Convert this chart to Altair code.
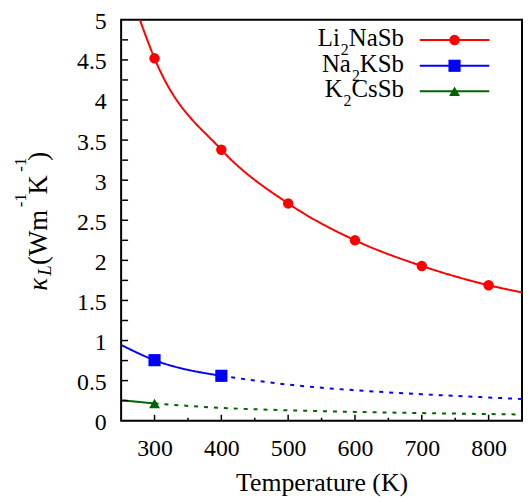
import altair as alt
import pandas as pd

FONT = "Liberation Serif"

# ---------------- data ----------------
series = ["Li2NaSb", "Na2KSb", "K2CsSb"]
legend_parts = [("Li", "2", "NaSb"), ("Na", "2", "KSb"), ("K", "2", "CsSb")]
colors = ["#ff0000", "#0000ff", "#006400"]
shapes = ["circle", "square", "triangle-up"]
marker_sizes = [110, 150, 120]

# computed points (markers)
li_T = [300, 400, 500, 600, 700, 800]
li_k = [4.52, 3.38, 2.71, 2.25, 1.93, 1.69]
na_T = [300, 400]
na_k = [0.755, 0.56]
kc_T = [300]
kc_k = [0.215]

# fitted curves (solid = computed range, dotted = extrapolation)
li_curve_T = [278, 300, 400, 500, 600, 700, 800, 850]
li_curve_k = [5.0, 4.52, 3.38, 2.71, 2.25, 1.93, 1.69, 1.60]
na_solid_T = [250, 300, 400]
na_solid_k = [0.945, 0.755, 0.56]
na_dot_T = [400, 500, 600, 700, 800, 850]
na_dot_k = [0.56, 0.45, 0.38, 0.33, 0.29, 0.27]
kc_solid_T = [250, 300]
kc_solid_k = [0.256, 0.215]
kc_dot_T = [300, 400, 500, 600, 700, 800, 850]
kc_dot_k = [0.215, 0.16, 0.13, 0.11, 0.095, 0.083, 0.078]

x_ticks = [300, 400, 500, 600, 700, 800]
x_minor = [350, 450, 550, 650, 750, 850]
y_labels = [0, 0.5, 1, 1.5, 2, 2.5, 3, 3.5, 4, 4.5, 5]
y_ticks = [0.25, 0.5, 0.75, 1, 1.25, 1.5, 1.75, 2, 2.25, 2.5, 2.75, 3, 3.25,
           3.5, 3.75, 4, 4.25, 4.5, 4.75]

W, H = 404, 404

# ---------------- tables ----------------
rows = []
def add(T, k, s, part, seg):
    for t, v in zip(T, k):
        rows.append({"T": t, "k": v, "series": s, "part": part, "seg": seg})

add(li_curve_T, li_curve_k, series[0], "solid", "a")
add(na_solid_T, na_solid_k, series[1], "solid", "b")
add(na_dot_T, na_dot_k, series[1], "dotted", "c")
add(kc_solid_T, kc_solid_k, series[2], "solid", "d")
add(kc_dot_T, kc_dot_k, series[2], "dotted", "e")
lines_df = pd.DataFrame(rows)

pts = [(li_T, li_k), (na_T, na_k), (kc_T, kc_k)]

axis_style = dict(labelFont=FONT, labelFontSize=24, labelColor="black",
                  titleFont=FONT, titleFontSize=26, titleFontWeight="normal",
                  titleColor="black", domain=False, ticks=False, grid=False,
                  labelFlush=False)

x_enc = alt.X("T:Q",
              scale=alt.Scale(domain=[250, 850], nice=False, zero=False),
              axis=alt.Axis(values=x_ticks, title="Temperature (K)",
                            titleY=70, titleBaseline="alphabetic",
                            labelPadding=16, **axis_style))
y_enc = alt.Y("k:Q",
              scale=alt.Scale(domain=[0, 5], nice=False, zero=True),
              axis=alt.Axis(values=y_labels, format="~g", title=None,
                            labelPadding=15, labelOffset=2, **axis_style))

color_scale = alt.Scale(domain=series, range=colors)

lines = alt.Chart(lines_df).mark_line(
    strokeWidth=2, clip=True, interpolate="monotone"
).encode(
    x=x_enc, y=y_enc,
    color=alt.Color("series:N", scale=color_scale, legend=None),
    strokeDash=alt.StrokeDash("part:N",
                              scale=alt.Scale(domain=["solid", "dotted"],
                                              range=[[1, 0], [4, 6]]),
                              legend=None),
    detail="seg:N",
)

layers = [lines]
for i, (T, k) in enumerate(pts):
    df = pd.DataFrame({"T": T, "k": k})
    layers.append(
        alt.Chart(df).mark_point(shape=shapes[i], filled=True, opacity=1,
                                 size=marker_sizes[i], color=colors[i])
        .encode(x=x_enc, y=y_enc)
    )

# inward ticks
layers.append(
    alt.Chart(pd.DataFrame({"k": y_ticks})).mark_rule(color="black", strokeWidth=1.5)
    .encode(y=y_enc, x=alt.value(0), x2=alt.value(7))
)
layers.append(
    alt.Chart(pd.DataFrame({"T": x_ticks})).mark_rule(color="black", strokeWidth=1.5)
    .encode(x=x_enc, y=alt.value(H), y2=alt.value(H - 6))
)
layers.append(
    alt.Chart(pd.DataFrame({"T": x_minor})).mark_rule(color="black", strokeWidth=1.5)
    .encode(x=x_enc, y=alt.value(H), y2=alt.value(H - 3))
)

# ---------------- legend (inside, top right) ----------------
adv = {'L': .611, 'i': .278, 'N': .722, 'a': .444, 'S': .556, 'b': .5,
       'K': .722, 'C': .667, 's': .389, '2': .5}
def width(txt, fs):
    return sum(adv[c] for c in txt) * fs

LFS, SFS = 25, 16
text_right = 285
row_y = [20.3, 46.3, 72]
for i in range(3):
    pre, sub, post = legend_parts[i]
    y0 = row_y[i]
    x_post = text_right
    x_sub = x_post - width(post, LFS)
    x_pre = x_sub - width(sub, SFS) - 1
    for txt, xx, yy, fs in [(post, x_post, y0 + 6, LFS),
                            (sub, x_sub, y0 + 15, SFS),
                            (pre, x_pre, y0 + 6, LFS)]:
        layers.append(
            alt.Chart(pd.DataFrame({"t": [txt]})).mark_text(
                font=FONT, fontSize=fs, align="right", baseline="alphabetic",
                color="black")
            .encode(text="t:N", x=alt.value(xx), y=alt.value(yy))
        )
    layers.append(
        alt.Chart(pd.DataFrame({"s": [series[i]]})).mark_rule(
            color=colors[i], strokeWidth=2)
        .encode(x=alt.value(301), x2=alt.value(371), y=alt.value(y0))
    )
    layers.append(
        alt.Chart(pd.DataFrame({"s": [series[i]]})).mark_point(
            shape=shapes[i], filled=True, opacity=1, size=marker_sizes[i],
            color=colors[i])
        .encode(x=alt.value(336), y=alt.value(y0))
    )

# ---------------- y title: kappa_L (W m^-1 K^-1), rotated ----------------
ytitle = [
    ("κ", 27, "italic", 273, -75),
    ("L", 19, "italic", 258, -71),
    ("(Wm", 27, "normal", 247, -75),
    ("-1", 17, "normal", 189, -96),
    ("K", 27, "normal", 176, -75),
    ("-1", 17, "normal", 153, -96),
    (")", 27, "normal", 142, -75),
]
for txt, fs, style, yy, xx in ytitle:
    layers.append(
        alt.Chart(pd.DataFrame({"t": [txt]})).mark_text(
            font=FONT, fontSize=fs, fontStyle=style, angle=270,
            align="left", baseline="alphabetic", color="black")
        .encode(text="t:N", x=alt.value(xx), y=alt.value(yy))
    )

chart = alt.layer(*layers).properties(
    width=W, height=H,
    autosize=alt.AutoSizeParams(type="none"),
    padding={"left": 114, "top": 10, "right": 1, "bottom": 80},
).configure_view(
    stroke="black", strokeWidth=2
).configure_axis(**axis_style)

chart.save("out.html", embed_options={"renderer": "svg", "actions": False})
